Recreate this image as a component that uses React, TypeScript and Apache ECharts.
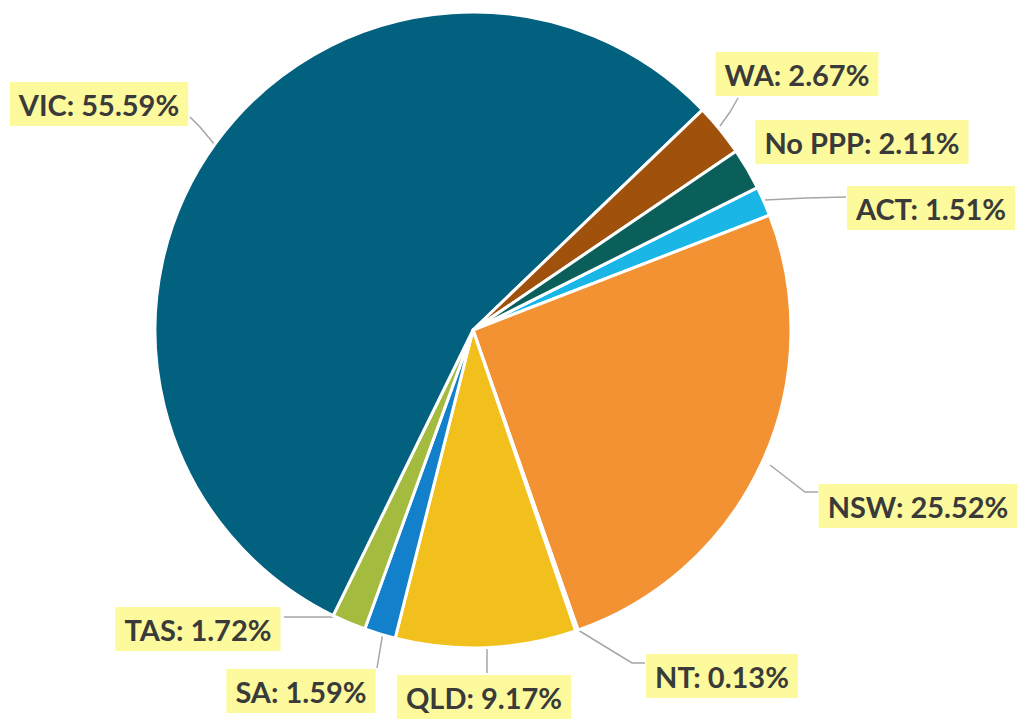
import React, { useEffect, useRef } from "react";
import * as echarts from "echarts";

const categories = ["ACT", "NSW", "NT", "QLD", "SA", "TAS", "VIC", "WA", "No PPP"];
const values = [1.51, 25.52, 0.13, 9.17, 1.59, 1.72, 55.59, 2.67, 2.11];
const colors = ["#19B6E6", "#F29233", "#7F7F7F", "#F2C01C", "#1380CB", "#A3BC3F", "#02617F", "#A0520C", "#0A5F5B"];

// label centre positions (layout)
const labelPos: number[][] = [
  [931, 208], [918, 506], [722, 676], [484, 697], [301, 691], [198, 629], [99, 104], [797, 74], [862, 142],
];
const linePts: (number[][] | null)[] = [
  [[765, 200], [806, 198], [846, 197]],
  [[770, 465], [805, 492], [818, 492]],
  [[578, 630], [632, 663], [645, 663]],
  [[487, 648], [487, 660], [487, 673]],
  [[383, 632], [380, 650], [377, 668]],
  [[336, 617], [300, 617], [284, 617]],
  [[215, 145], [200, 127], [190, 117]],
  [[720, 126], [730, 112], [738, 98]],
  null,
];

export default function App() {
  const ref = useRef<HTMLDivElement>(null);
  useEffect(() => {
    document.body.style.margin = "0";
    const chart = echarts.init(ref.current!, undefined, { renderer: "svg" });
    chart.setOption({
      animation: false,
      backgroundColor: "#ffffff",
      series: [
        {
          type: "pie",
          center: [473, 330],
          radius: 318,
          startAngle: 26.6,
          clockwise: true,
          avoidLabelOverlap: false,
          itemStyle: { borderColor: "#ffffff", borderWidth: 3 },
          label: {
            show: true,
            formatter: (p: any) => `${p.name}: ${p.value.toFixed(2)}%`,
            color: "#3A3A3A",
            fontFamily: "Lato",
            fontWeight: "bold",
            fontSize: 29,
            backgroundColor: "#FCFA9C",
            padding: [8, 9, 7, 9],
          },
          labelLine: { show: true, lineStyle: { color: "#A6A6A6", width: 1.5 } },
          labelLayout: (params: any) => {
            const i = params.dataIndex;
            const res: any = {
              x: labelPos[i][0],
              y: labelPos[i][1],
              align: "center",
              verticalAlign: "middle",
            };
            if (linePts[i]) res.labelLinePoints = linePts[i];
            return res;
          },
          data: categories.map((c, i) => ({
            name: c,
            value: values[i],
            itemStyle: { color: colors[i] },
            labelLine: { show: linePts[i] !== null },
          })),
        },
      ],
    });
    return () => chart.dispose();
  }, []);
  return <div ref={ref} style={{ width: 1021, height: 724 }} />;
}
